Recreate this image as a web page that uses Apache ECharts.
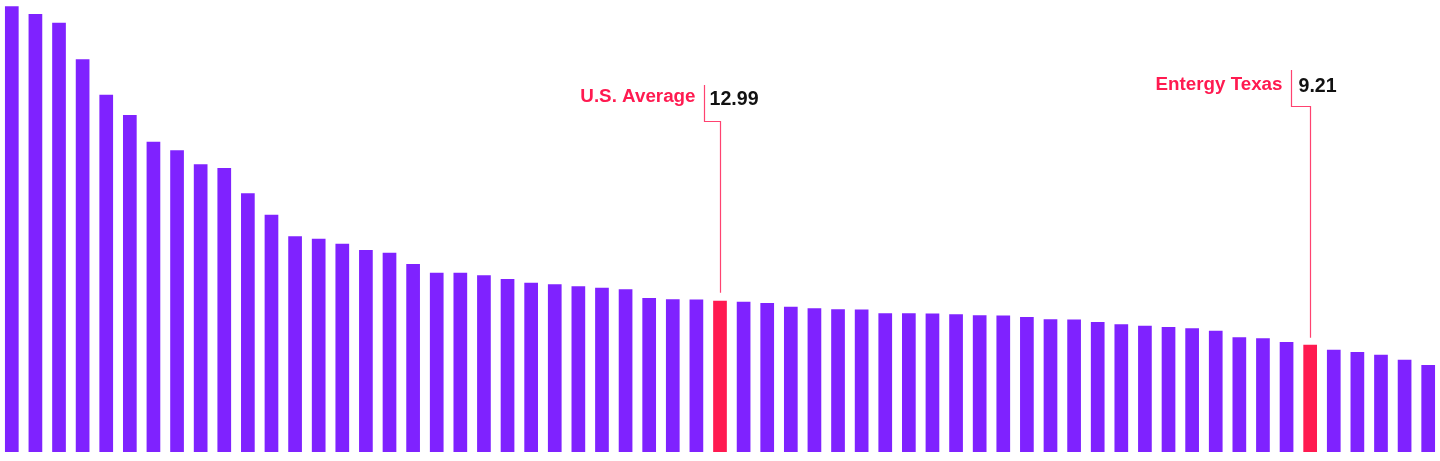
<!DOCTYPE html>
<html><head><meta charset="utf-8">
<script src="https://cdn.jsdelivr.net/npm/echarts@6/dist/echarts.min.js"></script>
<style>html,body{margin:0;padding:0;background:#fff}#c{width:1440px;height:461px}</style>
</head><body><div id="c"></div>
<script>
// values
const values = [38.26, 37.60, 36.85, 33.71, 30.67, 28.93, 26.64, 25.90, 24.69, 24.38,
  22.21, 20.37, 18.51, 18.31, 17.88, 17.34, 17.11, 16.14, 15.39, 15.39,
  15.17, 14.85, 14.53, 14.39, 14.22, 14.10, 13.97, 13.22, 13.11, 13.10,
  12.99, 12.90, 12.79, 12.47, 12.33, 12.25, 12.23, 11.91, 11.90, 11.89,
  11.82, 11.73, 11.72, 11.59, 11.39, 11.38, 11.16, 10.96, 10.84, 10.73,
  10.62, 10.41, 9.85, 9.76, 9.44, 9.21, 8.78, 8.58, 8.35, 7.92, 7.47];
const categories = values.map((v, i) => 'Utility ' + (i + 1));
categories[30] = 'U.S. Average';
categories[55] = 'Entergy Texas';
const highlightNames = ['U.S. Average', 'Entergy Texas'];
const highlightLabels = ['12.99', '9.21'];

const PURPLE = '#7F22FF';
const RED = '#FF1A50';
const LINE = '#FF4270';
// annotation layout (pixels)
const annoLayout = [
  { topY: 85, bendY: 121, jog: 16, gap: 8, labelDy: 12, numDy: 15, labelDx: 9, numDx: 5 },
  { topY: 70, bendY: 106, jog: 19, gap: 7, labelDy: 15, numDy: 17, labelDx: 9, numDx: 7 }
];
const LABEL_FONT = 'bold 18.8px "Liberation Sans", Arial, sans-serif';
const NUM_FONT = 'bold 19.6px "Liberation Sans", Arial, sans-serif';

const chart = echarts.init(document.getElementById('c'), null, { renderer: 'canvas' });
const data = values.map((v, i) => highlightNames.includes(categories[i])
  ? { value: v, itemStyle: { color: RED } } : v);

chart.setOption({
  animation: false,
  backgroundColor: '#fff',
  grid: { left: 0, right: 0, top: 0, bottom: 9, containLabel: false },
  xAxis: {
    type: 'category', data: categories, boundaryGap: true,
    axisLine: { show: false }, axisTick: { show: false }, axisLabel: { show: false },
    splitLine: { show: false }
  },
  yAxis: { type: 'value', min: 0, max: 38.8, show: false, splitLine: { show: false } },
  series: [{
    type: 'bar', data: data, barWidth: '58%', clip: false,
    itemStyle: { color: PURPLE }
  }]
});

const elements = [];
highlightNames.forEach((name, k) => {
  const i = categories.indexOf(name);
  const p = chart.convertToPixel({ xAxisIndex: 0, yAxisIndex: 0 }, [name, values[i]]);
  const L = annoLayout[k];
  const x = Math.round(p[0]) + 0.5;
  const xj = x - L.jog;
  elements.push({
    type: 'polyline',
    shape: { points: [[x, p[1] - L.gap], [x, L.bendY + 0.5], [xj, L.bendY + 0.5], [xj, L.topY]] },
    style: { stroke: LINE, lineWidth: 1.2, fill: null }
  });
  elements.push({
    type: 'text',
    x: xj - L.labelDx, y: L.topY + L.labelDy,
    style: { text: name, fill: RED, font: LABEL_FONT, align: 'right', verticalAlign: 'middle' }
  });
  elements.push({
    type: 'text',
    x: xj + L.numDx, y: L.topY + L.numDy,
    style: { text: highlightLabels[k], fill: '#111', font: NUM_FONT, align: 'left', verticalAlign: 'middle' }
  });
});
chart.setOption({ graphic: { elements: elements } });
</script>
</body></html>
